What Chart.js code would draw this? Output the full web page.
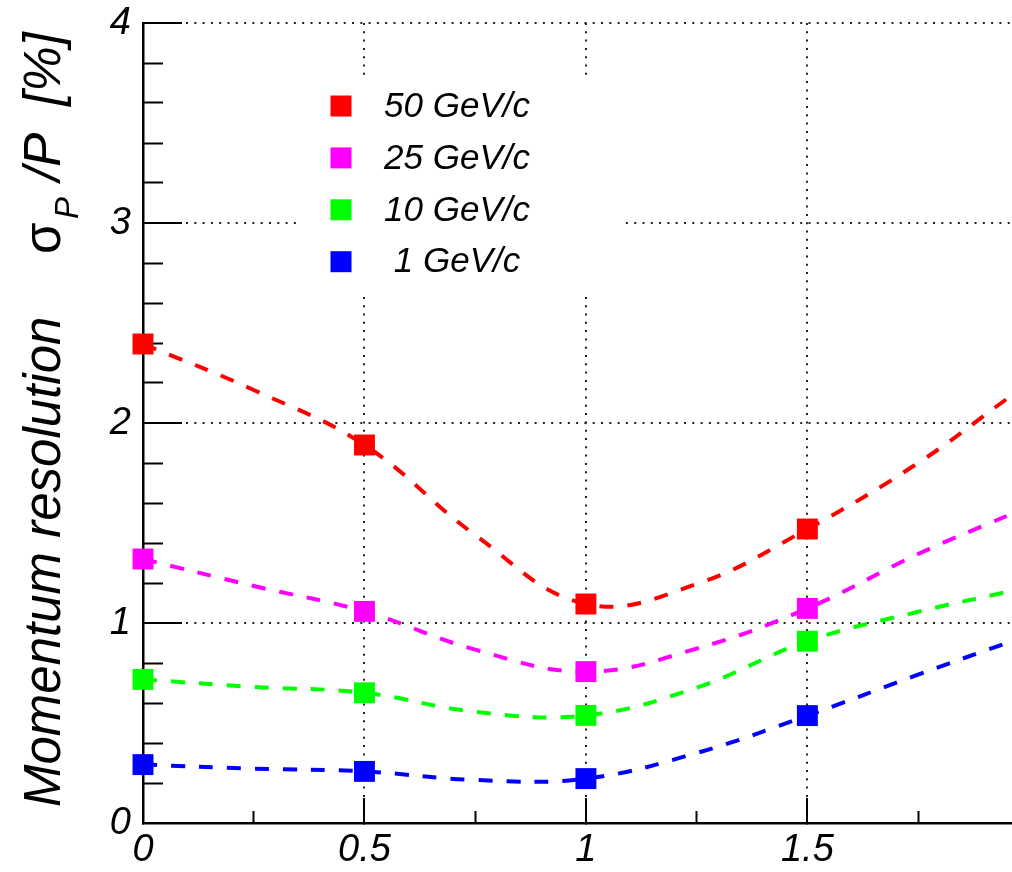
<!DOCTYPE html>
<html>
<head>
<meta charset="utf-8">
<script src="https://cdn.jsdelivr.net/npm/chart.js@4.4.1/dist/chart.umd.min.js"></script>
<style>
html, body { margin: 0; padding: 0; background: #ffffff; }
#c { display: block; }
</style>
</head>
<body>
<canvas id="c" width="1012" height="872"></canvas>
<script>
// ---- data ----
const markerX = [0, 0.5, 1, 1.5];
const res50 = [2.395, 1.89, 1.095, 1.47];
const res25 = [1.32, 1.058, 0.757, 1.073];
const res10 = [0.718, 0.651, 0.538, 0.909];
const res1  = [0.292, 0.258, 0.222, 0.537];

// dashed fit curves
const curveX  = [0, 0.25, 0.5, 0.75, 1, 1.25, 1.5, 1.75, 1.95];
const curve50 = [2.395, 2.165, 1.89, 1.44, 1.095, 1.195, 1.47, 1.80, 2.12];
const curve25 = [1.32, 1.185, 1.058, 0.867, 0.757, 0.872, 1.073, 1.345, 1.535];
const curve10 = [0.718, 0.68, 0.651, 0.556, 0.538, 0.677, 0.909, 1.056, 1.155];
const curve1  = [0.292, 0.272, 0.258, 0.215, 0.222, 0.35, 0.537, 0.742, 0.90];

const seriesLabels = ['50 GeV/c', '25 GeV/c', '10 GeV/c', '1 GeV/c'];
const seriesColors = ['#ff0000', '#ff00ff', '#00ff00', '#0000ff'];

const xTicks = [0, 0.5, 1, 1.5];
const xTickLabels = ['0', '0.5', '1', '1.5'];
const xMinorTicks = [0.25, 0.75, 1.25, 1.75];
const yTicks = [0, 1, 2, 3, 4];
const yTickLabels = ['0', '1', '2', '3', '4'];
const yMinorTicks = [0.2, 0.4, 0.6, 0.8, 1.2, 1.4, 1.6, 1.8, 2.2, 2.4, 2.6, 2.8, 3.2, 3.4, 3.6, 3.8];
const xRange = [0, 1.962];
const yRange = [0, 4];

const yTitleMain = 'Momentum resolution';
const yTitleSymbol = 'σ';
const yTitleSub = 'P';
const yTitleRest = '/P';
const yTitleUnit = '[%]';

// ---- chart ----
const FONT = "'Liberation Sans', Arial, Helvetica, sans-serif";
Chart.defaults.font.family = FONT;
Chart.defaults.color = '#000';

const toXY = (xs, ys) => xs.map((x, i) => ({ x: x, y: ys[i] }));
const markerSeries = [res50, res25, res10, res1];
const curveSeries = [curve50, curve25, curve10, curve1];

const datasets = [];
markerSeries.forEach((ys, i) => {
  datasets.push({
    label: seriesLabels[i],
    isMarker: true,
    data: toXY(markerX, ys),
    showLine: false,
    pointStyle: 'rect',
    pointRadius: 14.8,
    pointHoverRadius: 14.8,
    pointBackgroundColor: seriesColors[i],
    pointBorderColor: seriesColors[i],
    pointBorderWidth: 0,
    clip: false
  });
});
curveSeries.forEach((ys, i) => {
  datasets.push({
    label: seriesLabels[i] + ' fit',
    data: toXY(curveX, ys),
    borderColor: seriesColors[i],
    borderWidth: 4,
    borderDash: [14, 14],
    pointRadius: 0,
    tension: 0.4,
    fill: false
  });
});

const tickFont = { family: FONT, size: 38, style: 'italic' };
const gridColor = '#222222';

const zeroPad = s => { s.paddingTop = 0; s.paddingBottom = 0; s.paddingLeft = 0; s.paddingRight = 0; };

const legendPlugin = {
  id: 'insideLegend',
  beforeDatasetsDraw(chart) {
    const ctx = chart.ctx;
    ctx.save();
    ctx.fillStyle = '#ffffff';
    ctx.fillRect(300, 78, 322, 213);
    const items = chart.data.datasets.filter(d => d.isMarker);
    ctx.font = 'italic 35px ' + FONT;
    ctx.textAlign = 'center';
    ctx.textBaseline = 'middle';
    items.forEach((d, i) => {
      const cy = 106 + i * 51.9;
      ctx.fillStyle = d.pointBackgroundColor;
      ctx.fillRect(341 - 10.5, cy - 10.5, 21, 21);
      ctx.fillStyle = '#000';
      ctx.fillText(d.label, 457, cy + 1);
    });
    ctx.restore();
  }
};

const yTitlePlugin = {
  id: 'yTitle',
  afterDraw(chart) {
    const ctx = chart.ctx;
    ctx.save();
    ctx.translate(60, 0);
    ctx.rotate(-Math.PI / 2);
    ctx.fillStyle = '#000';
    ctx.textAlign = 'left';
    ctx.textBaseline = 'alphabetic';
    ctx.font = 'italic 51px ' + FONT;
    ctx.fillText(yTitleMain, -807, 0);
    ctx.font = '51px ' + FONT;
    ctx.fillText(yTitleSymbol, -254, 0);
    ctx.font = 'italic 33px ' + FONT;
    ctx.fillText(yTitleSub, -219, 18);
    ctx.font = 'italic 51px ' + FONT;
    ctx.fillText(yTitleRest, -181, 0);
    ctx.fillText(yTitleUnit, -106, 0);
    ctx.restore();
  }
};

new Chart(document.getElementById('c'), {
  type: 'line',
  data: { datasets: datasets },
  plugins: [legendPlugin, yTitlePlugin],
  options: {
    responsive: false,
    animation: false,
    events: [],
    layout: { autoPadding: false, padding: { top: 23, right: 0, bottom: 0, left: 0 } },
    plugins: {
      legend: { display: false },
      tooltip: { enabled: false },
      title: { display: false }
    },
    scales: {
      x: {
        type: 'linear',
        position: 'bottom',
        min: xRange[0],
        max: xRange[1],
        weight: 0,
        afterBuildTicks: s => { s.ticks = xTicks.map(v => ({ value: v })); },
        afterFit: s => { s.height = 49; zeroPad(s); },
        ticks: {
          font: tickFont,
          color: '#000',
          padding: 30,
          maxRotation: 0,
          autoSkip: false,
          callback: (v, i) => xTickLabels[i]
        },
        grid: {
          color: gridColor,
          lineWidth: 2,
          tickLength: -25,
          tickColor: '#000',
          tickWidth: 2
        },
        border: { display: true, color: '#000', width: 2.5, dash: [2, 6.3] }
      },
      x2: {
        type: 'linear',
        position: 'bottom',
        min: xRange[0],
        max: xRange[1],
        weight: -1,
        afterBuildTicks: s => { s.ticks = xMinorTicks.map(v => ({ value: v })); },
        afterFit: s => { s.height = 0; zeroPad(s); },
        ticks: { display: false },
        grid: {
          drawOnChartArea: false,
          tickLength: -12,
          tickColor: '#000',
          tickWidth: 2
        },
        border: { display: false }
      },
      y: {
        type: 'linear',
        position: 'left',
        min: yRange[0],
        max: yRange[1],
        weight: 0,
        afterBuildTicks: s => { s.ticks = yTicks.map(v => ({ value: v })); },
        afterFit: s => { s.width = 143; zeroPad(s); },
        ticks: {
          font: tickFont,
          color: '#000',
          padding: 51,
          autoSkip: false,
          callback: (v, i) => yTickLabels[i]
        },
        grid: {
          color: gridColor,
          lineWidth: 2,
          tickLength: -39,
          tickColor: '#000',
          tickWidth: 2
        },
        border: { display: true, color: '#000', width: 2.5, dash: [2, 6.3] }
      },
      y2: {
        type: 'linear',
        position: 'left',
        min: yRange[0],
        max: yRange[1],
        weight: -1,
        afterBuildTicks: s => { s.ticks = yMinorTicks.map(v => ({ value: v })); },
        afterFit: s => { s.width = 0; zeroPad(s); },
        ticks: { display: false },
        grid: {
          drawOnChartArea: false,
          tickLength: -20,
          tickColor: '#000',
          tickWidth: 2
        },
        border: { display: false }
      }
    }
  }
});
</script>
</body>
</html>
